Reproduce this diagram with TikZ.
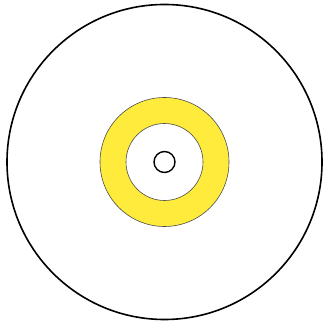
\documentclass[tikz,border=0pt]{standalone}
\definecolor{ringyellow}{HTML}{FFEB3B}
\begin{document}
\begin{tikzpicture}[x=1pt,y=1pt,
  outerline/.style={draw=black,line width=1.6pt},
  ringstyle/.style={fill=ringyellow,draw=black!70,line width=0.6pt,even odd rule},
  coreline/.style={draw=black,line width=1.4pt}]
\useasboundingbox (0,0) rectangle (322,323);
\fill[white] (0,0) rectangle (322,323);
\coordinate (c) at (164.5,161);
\draw[outerline] (c) circle (157.5);
\path[ringstyle] (c) circle (64.5) (c) circle (38.5);
\draw[coreline] (c) circle (10.5);
\end{tikzpicture}
\end{document}
